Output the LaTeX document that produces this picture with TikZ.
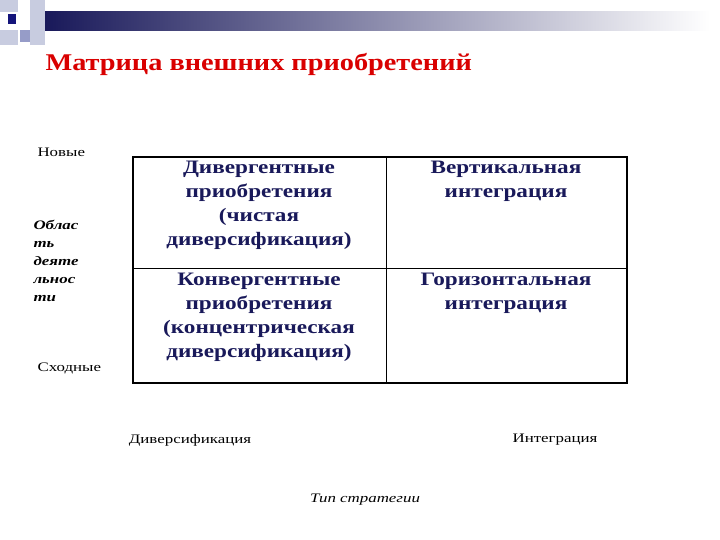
\documentclass[tikz,border=0pt]{standalone}
\usepackage{fontspec}
\setmainfont{Liberation Serif}
\newfontfamily\widefont[FakeStretch=1.22]{Liberation Serif}
\newfontfamily\smallfont[FakeStretch=1.3]{Liberation Serif}
\newfontfamily\titlefont[FakeStretch=1.18]{Liberation Serif}
\begin{document}
\begin{tikzpicture}[x=1pt,y=-1pt,
  cell/.style={font=\widefont\bfseries\fontsize{19}{24}\selectfont,text=navy,align=center,anchor=north},
  small/.style={font=\smallfont\fontsize{13}{14}\selectfont,anchor=west}]
\definecolor{navy}{RGB}{25,25,90}
\definecolor{sq1}{RGB}{200,204,224}
\definecolor{sq2}{RGB}{150,156,200}
\useasboundingbox (0,0) rectangle (720,540);
\fill[white] (0,0) rectangle (720,540);
% decoration
\shade[left color=navy,right color=white] (45,12) rectangle (710,31);
\fill[sq1] (0,0) rectangle (18,12);
\fill[sq1] (30,0) rectangle (45,45);
\fill[sq2] (20,30) rectangle (30,42);
\fill[sq1] (0,30) rectangle (18,45);
\fill[navy!80!blue] (8,14) rectangle (16,24);
% title
\node[font=\titlefont\bfseries\fontsize{24}{28}\selectfont,text=red!85!black,anchor=west] (title) at (42,64) {Матрица внешних приобретений};
% table
\draw[line width=1.2pt] (133,157) rectangle (627,383);
\draw[line width=0.8pt] (133,268) -- (627,268);
\draw[line width=0.8pt] (386,157) -- (386,383);
\node[cell] (c1) at (259,158) {Дивергентные\\приобретения\\(чистая\\диверсификация)};
\node[cell] (c2) at (506,158) {Вертикальная\\интеграция};
\node[cell] (c3) at (259,270) {Конвергентные\\приобретения\\(концентрическая\\диверсификация)};
\node[cell] (c4) at (506,270) {Горизонтальная\\интеграция};
% labels
\node[small] (n) at (34,152) {Новые};
\node[small,font=\smallfont\bfseries\itshape\fontsize{13}{18}\selectfont,align=left,anchor=north west] (o) at (30,217) {Облас\\ть\\деяте\\льнос\\ти};
\node[small] (s) at (34,368) {Сходные};
\node[small,anchor=center] (d) at (190,440) {Диверсификация};
\node[small,anchor=center] (i) at (555,440) {Интеграция};
\node[small,anchor=center,font=\smallfont\itshape\fontsize{13}{14}\selectfont] (t) at (365,500) {Тип стратегии};
\end{tikzpicture}
\end{document}
